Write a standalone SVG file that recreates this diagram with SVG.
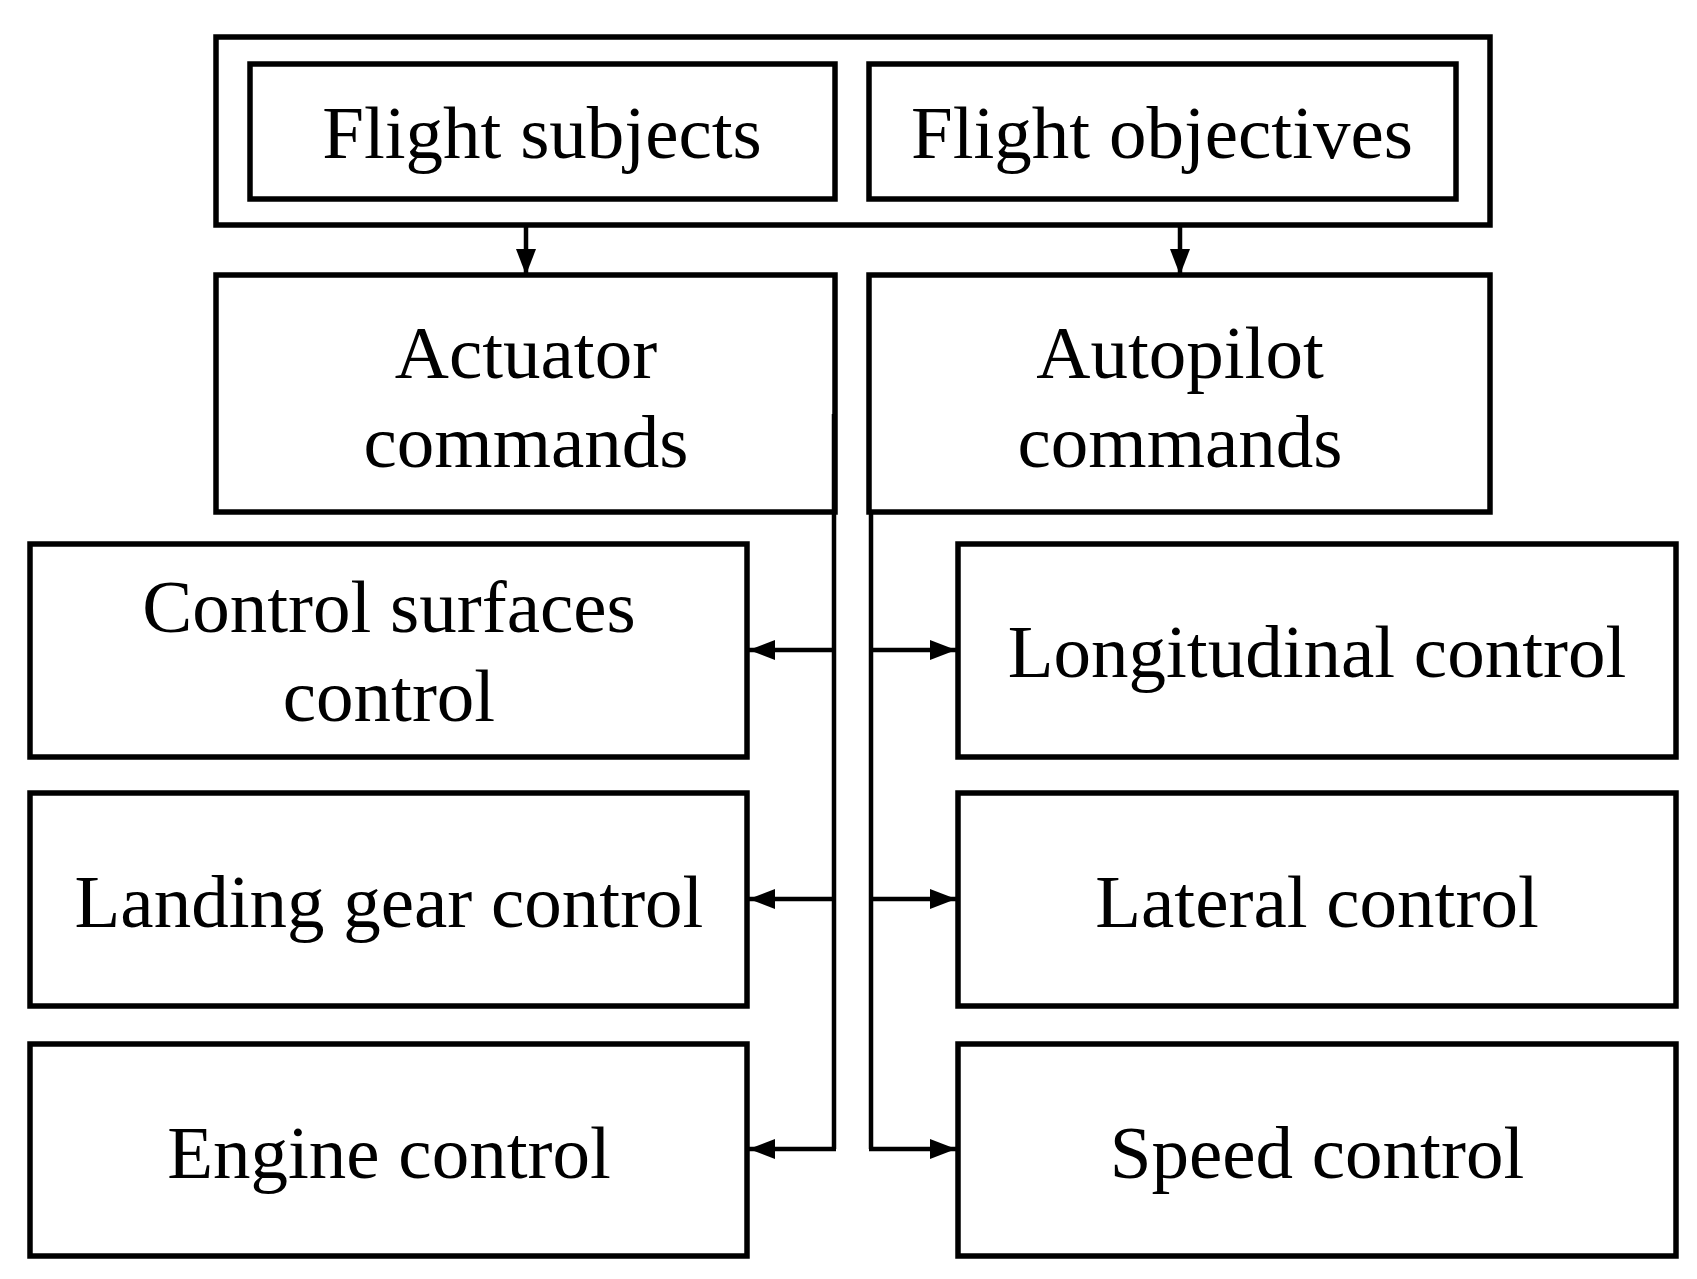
<svg xmlns="http://www.w3.org/2000/svg" width="1697" height="1279" viewBox="0 0 1697 1279">
<defs>
<style>
rect{fill:none;stroke:#000;stroke-width:5.5}
text{font-family:"Liberation Serif",serif;font-size:75px;text-anchor:middle;fill:#000}
.c{stroke:#000;stroke-width:4.5;fill:none}
</style>
<marker id="b" viewBox="0 0 10 10" refX="10" refY="5" markerWidth="26" markerHeight="20" markerUnits="userSpaceOnUse" orient="auto" preserveAspectRatio="none"><path d="M0,0L10,5L0,10z"/></marker>
</defs>
<rect x="0" y="0" width="1697" height="1279" style="fill:#fff;stroke:none"/>
<g id="top"><rect x="216" y="37" width="1274" height="188"/></g>
<g id="subjects"><rect x="250" y="64" width="585" height="135"/><text x="542" y="158">Flight subjects</text></g>
<g id="objectives"><rect x="869" y="64" width="587" height="135"/><text x="1162" y="158">Flight objectives</text></g>
<g id="actuator"><rect x="216" y="275" width="619" height="237"/><text x="526" y="378">Actuator</text><text x="526" y="467">commands</text></g>
<g id="autopilot"><rect x="869" y="275" width="621" height="237"/><text x="1180" y="378">Autopilot</text><text x="1180" y="467">commands</text></g>
<g id="csc"><rect x="30" y="544" width="717" height="213"/><text x="389" y="632">Control surfaces</text><text x="389" y="721">control</text></g>
<g id="lgc"><rect x="30" y="793" width="717" height="213"/><text x="389" y="927">Landing gear control</text></g>
<g id="ec"><rect x="30" y="1044" width="717" height="212"/><text x="389" y="1178">Engine control</text></g>
<g id="long"><rect x="958" y="544" width="718" height="213"/><text x="1317" y="677">Longitudinal control</text></g>
<g id="lat"><rect x="958" y="793" width="718" height="213"/><text x="1317" y="927">Lateral control</text></g>
<g id="speed"><rect x="958" y="1044" width="718" height="212"/><text x="1317" y="1178">Speed control</text></g>
<g id="connectors" class="c">
<path d="M526,225V275" marker-end="url(#b)"/>
<path d="M1180,225V275" marker-end="url(#b)"/>
<path d="M834,414V1149"/>
<path d="M834,650H749" marker-end="url(#b)"/>
<path d="M834,899H749" marker-end="url(#b)"/>
<path d="M836,1149H749" marker-end="url(#b)"/>
<path d="M871,512V1149"/>
<path d="M871,650H956" marker-end="url(#b)"/>
<path d="M871,899H956" marker-end="url(#b)"/>
<path d="M869,1149H956" marker-end="url(#b)"/>
</g>
</svg>
